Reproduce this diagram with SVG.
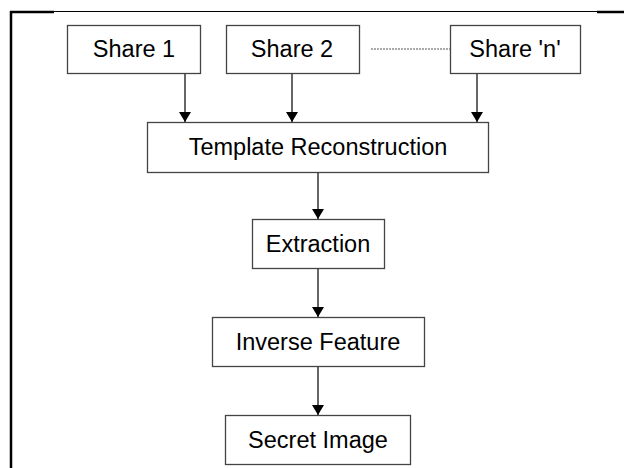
<svg xmlns="http://www.w3.org/2000/svg" width="624" height="468" viewBox="0 0 624 468">
<style>
.box{fill:#fff;stroke:#444;stroke-width:1.3}
.lbl{font-family:"Liberation Sans",Arial,sans-serif;font-size:23.5px;fill:#000;text-anchor:middle;dominant-baseline:central}
.con{stroke:#000;stroke-width:1.2;fill:none}
</style>
<defs>
<marker id="ah" viewBox="0 0 10 12" refX="10" refY="6" markerWidth="10" markerHeight="12" markerUnits="userSpaceOnUse" orient="auto">
<path d="M0,0 L10,6 L0,12 Z" fill="#000"/>
</marker>
</defs>
<g id="frame">
<line x1="10" y1="12" x2="54" y2="12" stroke="#000" stroke-width="2.5"/>
<line x1="54" y1="11.5" x2="597" y2="11.5" stroke="#000" stroke-width="1.2"/>
<line x1="597" y1="12" x2="624" y2="12" stroke="#000" stroke-width="2.5"/>
<line x1="11" y1="11" x2="11" y2="468" stroke="#000" stroke-width="2.5"/>
</g>
<g id="connectors">
<line class="con" x1="185" y1="73" x2="185" y2="122" marker-end="url(#ah)"/>
<line class="con" x1="292" y1="73" x2="292" y2="122" marker-end="url(#ah)"/>
<line class="con" x1="477" y1="73" x2="477" y2="122" marker-end="url(#ah)"/>
<line class="con" x1="318" y1="172" x2="318" y2="219" marker-end="url(#ah)"/>
<line class="con" x1="318" y1="268" x2="318" y2="317" marker-end="url(#ah)"/>
<line class="con" x1="318" y1="366" x2="318" y2="415" marker-end="url(#ah)"/>
<line x1="371" y1="49" x2="450" y2="49" stroke="#555" stroke-width="1" stroke-dasharray="2,1"/>
</g>
<g id="share1"><rect class="box" x="67.5" y="25.5" width="133" height="48"/><text class="lbl" x="134" y="49">Share 1</text></g>
<g id="share2"><rect class="box" x="226.5" y="25.5" width="133" height="48"/><text class="lbl" x="292" y="49">Share 2</text></g>
<g id="sharen"><rect class="box" x="450.5" y="25.5" width="130" height="48"/><text class="lbl" x="515" y="49">Share 'n'</text></g>
<g id="template"><rect class="box" x="147.5" y="122.5" width="341" height="50"/><text class="lbl" x="318" y="147">Template Reconstruction</text></g>
<g id="extraction"><rect class="box" x="252.5" y="219.5" width="132" height="49"/><text class="lbl" x="318" y="244">Extraction</text></g>
<g id="inverse"><rect class="box" x="212.5" y="317.5" width="212" height="49"/><text class="lbl" x="318" y="342">Inverse Feature</text></g>
<g id="secret"><rect class="box" x="225.5" y="415.5" width="185" height="49"/><text class="lbl" x="318" y="440">Secret Image</text></g>
</svg>
